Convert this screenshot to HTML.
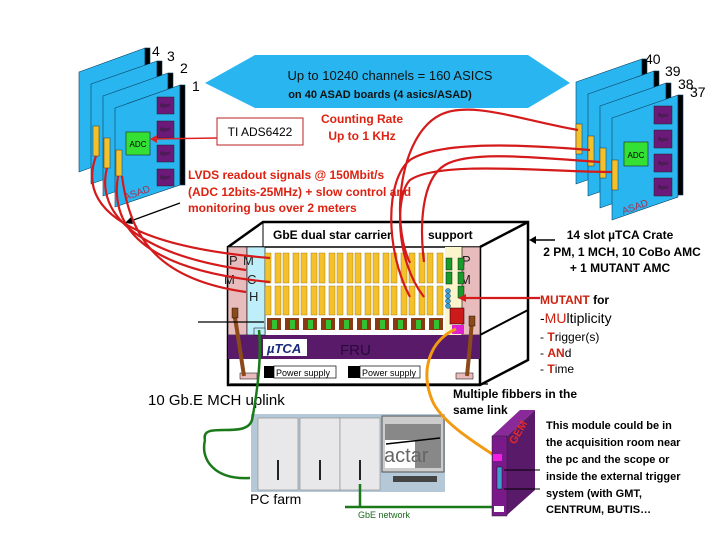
<!DOCTYPE html>
<html><head><meta charset="utf-8"><style>
body{margin:0;background:#fff}
svg{display:block}
text{font-family:"Liberation Sans",sans-serif}
</style></head><body>
<svg width="720" height="540" viewBox="0 0 720 540" xmlns="http://www.w3.org/2000/svg">
<!-- Banner -->
<polygon points="205,83 255,55 528,55 570,83 528,108 255,108" fill="#29b6f0"/>
<text x="390" y="80" font-size="13" text-anchor="middle" fill="#111">Up to 10240 channels = 160 ASICS</text>
<text x="380" y="98" font-size="11" font-weight="bold" text-anchor="middle" fill="#111">on 40 ASAD boards (4 asics/ASAD)</text>
<!-- number labels -->
<text x="152" y="56" font-size="14">4</text><text x="167" y="61" font-size="14">3</text>
<text x="180" y="73" font-size="14">2</text><text x="192" y="91" font-size="14">1</text>
<text x="645" y="64" font-size="14">40</text><text x="665" y="76" font-size="14">39</text>
<text x="678" y="89" font-size="14">38</text><text x="690" y="97" font-size="14">37</text>

<!-- left boards -->
<g stroke="#0a3d5c" stroke-width="0.6">
<polygon points="79,72 145,48 145,148 79,172" fill="#29b6f0"/>
<rect x="145" y="48" width="5" height="100" fill="#000"/>
<polygon points="91,84 157,61 157,161 91,184" fill="#29b6f0"/>
<rect x="157" y="61" width="5" height="100" fill="#000"/>
<polygon points="103,96 168,73 168,173 103,196" fill="#29b6f0"/>
<rect x="168" y="73" width="5" height="100" fill="#000"/>
<polygon points="115,108 180,85 180,185 115,207" fill="#29b6f0"/>
<rect x="180" y="85" width="5" height="100" fill="#000"/>
</g>
<rect x="93" y="126" width="6" height="30" fill="#f5c12a" stroke="#333" stroke-width=".5"/>
<rect x="104" y="138" width="6" height="30" fill="#f5c12a" stroke="#333" stroke-width=".5"/>
<rect x="116" y="150" width="6" height="26" fill="#f5c12a" stroke="#333" stroke-width=".5"/>
<g fill="#6b1a7a" stroke="#222" stroke-width=".5">
<rect x="157" y="97" width="17" height="17"/><rect x="157" y="121" width="17" height="17"/>
<rect x="157" y="145" width="17" height="17"/><rect x="157" y="169" width="17" height="17"/>
</g>
<g font-size="5" fill="#222" text-anchor="middle"><text x="165" y="107">Aget</text><text x="165" y="131">Aget</text><text x="165" y="155">Aget</text><text x="165" y="179">Aget</text></g>
<rect x="126" y="132" width="24" height="23" fill="#33e033" stroke="#222" stroke-width=".6"/>
<text x="138" y="147" font-size="8" text-anchor="middle">ADC</text>
<text x="138" y="196" font-size="10" fill="#a83050" transform="rotate(-20 138 196)" text-anchor="middle">ASAD</text>
<!-- right boards -->
<g stroke="#0a3d5c" stroke-width="0.6">
<polygon points="576,82 642,59 642,161 576,184" fill="#29b6f0"/>
<rect x="642" y="59" width="5" height="100" fill="#000"/>
<polygon points="588,94 654,71 654,173 588,196" fill="#29b6f0"/>
<rect x="654" y="71" width="5" height="100" fill="#000"/>
<polygon points="600,106 666,83 666,185 600,208" fill="#29b6f0"/>
<rect x="666" y="83" width="5" height="100" fill="#000"/>
<polygon points="612,118 678,95 678,197 612,220" fill="#29b6f0"/>
<rect x="678" y="95" width="5" height="100" fill="#000"/>
</g>
<g fill="#f5c12a" stroke="#333" stroke-width=".5">
<rect x="576" y="124" width="6" height="30"/><rect x="588" y="136" width="6" height="30"/>
<rect x="600" y="148" width="6" height="30"/><rect x="612" y="160" width="6" height="30"/>
</g>
<g fill="#6b1a7a" stroke="#222" stroke-width=".5">
<rect x="654" y="106" width="18" height="18"/><rect x="654" y="130" width="18" height="18"/>
<rect x="654" y="154" width="18" height="18"/><rect x="654" y="178" width="18" height="18"/>
</g>
<g font-size="5" fill="#222" text-anchor="middle"><text x="663" y="117">Aget</text><text x="663" y="141">Aget</text><text x="663" y="165">Aget</text><text x="663" y="189">Aget</text></g>
<rect x="624" y="142" width="24" height="24" fill="#33e033" stroke="#222" stroke-width=".6"/>
<text x="636" y="158" font-size="8" text-anchor="middle">ADC</text>
<text x="636" y="210" font-size="10" fill="#a83050" transform="rotate(-20 636 210)" text-anchor="middle">ASAD</text>

<!-- TI box -->
<rect x="217" y="118" width="86" height="27" fill="#fff" stroke="#b22" stroke-width="1"/>
<text x="260" y="136" font-size="12" text-anchor="middle">TI ADS6422</text>
<line x1="217" y1="138" x2="152" y2="139" stroke="#d22" stroke-width="1.5"/>
<polygon points="150,139 157,135 157,143" fill="#d22"/>
<text x="362" y="123" font-size="12" font-weight="bold" fill="#d21" text-anchor="middle">Counting Rate</text>
<text x="362" y="140" font-size="12" font-weight="bold" fill="#d21" text-anchor="middle">Up to 1 KHz</text>
<text x="188" y="179" font-size="12" font-weight="bold" fill="#d21">LVDS readout signals @ 150Mbit/s</text>
<text x="188" y="196" font-size="12" font-weight="bold" fill="#d21">(ADC 12bits-25MHz) + slow control and</text>
<text x="188" y="212" font-size="12" font-weight="bold" fill="#d21">monitoring bus over 2 meters</text>
<line x1="180" y1="203" x2="128" y2="222" stroke="#000" stroke-width="1.3"/>
<polygon points="125,223 131,217 133,224"/>

<!-- crate -->
<polygon points="228,247 263,222 528,222 528,360 480,385 228,385" fill="#fff" stroke="#000" stroke-width="2.5"/>
<line x1="480" y1="247" x2="528" y2="222" stroke="#000" stroke-width="2.5"/>
<line x1="480" y1="247" x2="480" y2="385" stroke="#000" stroke-width="2.5"/>
<line x1="480" y1="335" x2="528" y2="310" stroke="#000" stroke-width="2"/>
<line x1="228" y1="247" x2="480" y2="247" stroke="#000" stroke-width="1.5"/>
<line x1="263" y1="222" x2="263" y2="247" stroke="#000" stroke-width="1"/>
<text x="273" y="239" font-size="12" font-weight="bold">GbE  dual  star carrier</text>
<text x="428" y="239" font-size="12" font-weight="bold">support</text>
<rect x="228" y="247" width="19" height="88" fill="#e8bcbc" stroke="#000" stroke-width=".6"/>
<rect x="247" y="247" width="18" height="88" fill="#bdeefa" stroke="#000" stroke-width=".6"/>
<rect x="445" y="247" width="17" height="88" fill="#fbf5cc"/>
<rect x="462" y="247" width="18" height="88" fill="#e8bcbc" stroke="#000" stroke-width=".6"/>
<g font-size="13" fill="#222"><text x="229" y="265">P</text><text x="243" y="265">M</text><text x="224" y="284">M</text><text x="247" y="284">C</text><text x="249" y="301">H</text><text x="462" y="265">P</text><text x="460" y="284">M</text></g>
<g fill="#f5c12a" stroke="#8a6a00" stroke-width=".4">
<rect x="265" y="253" width="6" height="30"/><rect x="275" y="253" width="6" height="30"/>
<rect x="283" y="253" width="6" height="30"/><rect x="293" y="253" width="6" height="30"/>
<rect x="301" y="253" width="6" height="30"/><rect x="311" y="253" width="6" height="30"/>
<rect x="319" y="253" width="6" height="30"/><rect x="329" y="253" width="6" height="30"/>
<rect x="337" y="253" width="6" height="30"/><rect x="347" y="253" width="6" height="30"/>
<rect x="355" y="253" width="6" height="30"/><rect x="365" y="253" width="6" height="30"/>
<rect x="373" y="253" width="6" height="30"/><rect x="383" y="253" width="6" height="30"/>
<rect x="391" y="253" width="6" height="30"/><rect x="401" y="253" width="6" height="30"/>
<rect x="409" y="253" width="6" height="30"/><rect x="419" y="253" width="6" height="30"/>
<rect x="427" y="253" width="6" height="30"/><rect x="437" y="253" width="6" height="30"/>
<rect x="265" y="286" width="6" height="29"/><rect x="275" y="286" width="6" height="29"/>
<rect x="283" y="286" width="6" height="29"/><rect x="293" y="286" width="6" height="29"/>
<rect x="301" y="286" width="6" height="29"/><rect x="311" y="286" width="6" height="29"/>
<rect x="319" y="286" width="6" height="29"/><rect x="329" y="286" width="6" height="29"/>
<rect x="337" y="286" width="6" height="29"/><rect x="347" y="286" width="6" height="29"/>
<rect x="355" y="286" width="6" height="29"/><rect x="365" y="286" width="6" height="29"/>
<rect x="373" y="286" width="6" height="29"/><rect x="383" y="286" width="6" height="29"/>
<rect x="391" y="286" width="6" height="29"/><rect x="401" y="286" width="6" height="29"/>
<rect x="409" y="286" width="6" height="29"/><rect x="419" y="286" width="6" height="29"/>
<rect x="427" y="286" width="6" height="29"/><rect x="437" y="286" width="6" height="29"/>
</g>
<g>
<rect x="267" y="318" width="14" height="12" fill="#8a3a10"/><rect x="272" y="320" width="5" height="9" fill="#33c033"/>
<rect x="285" y="318" width="14" height="12" fill="#8a3a10"/><rect x="290" y="320" width="5" height="9" fill="#33c033"/>
<rect x="303" y="318" width="14" height="12" fill="#8a3a10"/><rect x="308" y="320" width="5" height="9" fill="#33c033"/>
<rect x="321" y="318" width="14" height="12" fill="#8a3a10"/><rect x="326" y="320" width="5" height="9" fill="#33c033"/>
<rect x="339" y="318" width="14" height="12" fill="#8a3a10"/><rect x="344" y="320" width="5" height="9" fill="#33c033"/>
<rect x="357" y="318" width="14" height="12" fill="#8a3a10"/><rect x="362" y="320" width="5" height="9" fill="#33c033"/>
<rect x="375" y="318" width="14" height="12" fill="#8a3a10"/><rect x="380" y="320" width="5" height="9" fill="#33c033"/>
<rect x="393" y="318" width="14" height="12" fill="#8a3a10"/><rect x="398" y="320" width="5" height="9" fill="#33c033"/>
<rect x="411" y="318" width="14" height="12" fill="#8a3a10"/><rect x="416" y="320" width="5" height="9" fill="#33c033"/>
<rect x="429" y="318" width="14" height="12" fill="#8a3a10"/><rect x="434" y="320" width="5" height="9" fill="#33c033"/>
</g>
<g fill="#1a9a2a" stroke="#000" stroke-width=".4">
<rect x="446" y="258" width="6" height="12"/><rect x="446" y="272" width="6" height="12"/>
<rect x="458" y="258" width="6" height="12"/><rect x="458" y="272" width="6" height="12"/><rect x="458" y="286" width="6" height="12"/>
</g>
<g fill="#3aa0d0" stroke="#123" stroke-width=".4"><circle cx="448" cy="291" r="2.5"/><circle cx="448" cy="296" r="2.5"/><circle cx="448" cy="301" r="2.5"/><circle cx="448" cy="306" r="2.5"/></g>
<rect x="450" y="308" width="14" height="16" fill="#cc1a1a" stroke="#000" stroke-width=".5"/>
<rect x="452" y="325" width="12" height="9" fill="#e020d0"/>
<rect x="228" y="335" width="252" height="24" fill="#5a1a6a"/>
<rect x="263" y="339" width="44" height="17" fill="#fff"/>
<text x="267" y="353" font-size="13" font-style="italic" font-weight="bold" fill="#1a2a7a">µTCA</text>
<text x="340" y="355" font-size="15" fill="#2a0a3a">FRU</text>
<rect x="264" y="366" width="10" height="12" fill="#000"/><rect x="274" y="366" width="62" height="12" fill="#fff" stroke="#000" stroke-width=".7"/>
<text x="276" y="376" font-size="9">Power supply</text>
<rect x="348" y="366" width="12" height="12" fill="#000"/><rect x="360" y="366" width="60" height="12" fill="#fff" stroke="#000" stroke-width=".7"/>
<text x="362" y="376" font-size="9">Power supply</text>
<rect x="240" y="373" width="17" height="6" fill="#e8bcbc" stroke="#000" stroke-width=".5"/>
<rect x="456" y="373" width="17" height="6" fill="#e8bcbc" stroke="#000" stroke-width=".5"/>
<rect x="254" y="328" width="11" height="7" fill="#bdeefa" stroke="#000" stroke-width=".5"/>
<path d="M234,312 L237,330 L244,376" stroke="#8a4a1a" stroke-width="4" fill="none"/>
<rect x="232" y="308" width="6" height="10" fill="#8a4a1a" stroke="#000" stroke-width=".4"/>
<path d="M472,320 L470,345 L467,376" stroke="#8a4a1a" stroke-width="4" fill="none"/>
<rect x="469" y="316" width="6" height="10" fill="#8a4a1a" stroke="#000" stroke-width=".4"/>
<line x1="198" y1="322" x2="264" y2="322" stroke="#000" stroke-width="1.3"/>

<!-- red cables -->
<g stroke="#d41a1a" stroke-width="2.2" fill="none">
<path d="M96,156 C80,200 110,245 270,258"/>
<path d="M107,168 C95,215 140,255 246,270"/>
<path d="M118,176 C110,225 140,270 270,282"/>
<path d="M122,176 C130,240 160,280 246,292"/>
<path d="M578,130 C520,120 470,100 440,115 C400,135 390,220 410,263"/>
<path d="M590,150 C530,145 440,140 410,160 C385,180 385,250 410,297"/>
<path d="M600,162 C540,158 470,150 445,165 C420,180 420,230 424,262"/>
<path d="M612,172 C550,172 440,160 410,180 C395,195 395,260 424,297"/>
<path d="M540,298 L462,298"/>
</g>
<polygon points="458,298 466,294 466,302" fill="#d41a1a"/>
<line x1="555" y1="240" x2="532" y2="240" stroke="#000" stroke-width="1.5"/>
<polygon points="529,240 536,236 536,244"/>

<!-- right texts -->
<g font-size="12" font-weight="bold" text-anchor="middle"><text x="620" y="239">14 slot µTCA Crate</text><text x="622" y="256">2 PM, 1 MCH, 10 CoBo AMC</text><text x="620" y="272">+ 1 MUTANT AMC</text></g>
<text x="540" y="304" font-size="12" font-weight="bold"><tspan fill="#c21">MUTANT</tspan> for</text>
<text x="540" y="323" font-size="14">-<tspan fill="#c21">MU</tspan>ltiplicity</text>
<text x="540" y="341" font-size="12">- <tspan fill="#c21" font-weight="bold">T</tspan>rigger(s)</text>
<text x="540" y="357" font-size="12">- <tspan fill="#c21" font-weight="bold">AN</tspan>d</text>
<text x="540" y="373" font-size="12">- <tspan fill="#c21" font-weight="bold">T</tspan>ime</text>
<text x="453" y="398" font-size="12" font-weight="bold">Multiple fibbers in the</text>
<text x="453" y="414" font-size="12" font-weight="bold">same link</text>
<g font-size="11" font-weight="bold"><text x="546" y="429">This module could be in</text><text x="546" y="446">the  acquisition room near</text><text x="546" y="463">the pc and the scope or</text><text x="546" y="480">inside the external trigger</text><text x="546" y="497">system (with GMT,</text><text x="546" y="513">CENTRUM, BUTIS…</text></g>

<!-- uplink -->
<line x1="230" y1="384" x2="488" y2="384" stroke="#000" stroke-width="1.3"/>
<text x="148" y="405" font-size="15">10 Gb.E MCH  uplink</text>

<!-- PC farm -->
<rect x="251" y="414" width="194" height="78" fill="#b4c8d8"/>
<g fill="#e8e8ea" stroke="#888" stroke-width=".6">
<rect x="258" y="418" width="40" height="72"/><rect x="300" y="418" width="40" height="72"/><rect x="340" y="418" width="40" height="72"/>
</g>
<g stroke="#222" stroke-width="2"><line x1="278" y1="460" x2="278" y2="480"/><line x1="320" y1="460" x2="320" y2="480"/><line x1="360" y1="460" x2="360" y2="480"/></g>
<rect x="382" y="416" width="62" height="56" fill="#ccc" stroke="#555"/>
<rect x="385" y="424" width="56" height="44" fill="#888"/>
<rect x="385" y="440" width="30" height="28" fill="#fff"/>
<text x="384" y="462" font-size="20" fill="#666">actar</text>
<line x1="386" y1="444" x2="440" y2="438" stroke="#000" stroke-width="1.5"/>
<rect x="393" y="476" width="44" height="6" fill="#444"/>
<text x="250" y="504" font-size="14">PC farm</text>
<text x="358" y="518" font-size="9" fill="#1a6a1a">GbE network</text>
<g stroke="#1a7a1a" stroke-width="2.5" fill="none">
<path d="M259,330 C262,360 256,400 252,420 C246,440 200,420 205,440"/>
<path d="M205,440 C200,460 215,480 250,478"/>
<line x1="345" y1="507" x2="496" y2="507"/>
<line x1="360" y1="484" x2="360" y2="507"/>
</g>
<!-- orange -->
<path d="M456,329 C430,340 420,370 432,400 C440,420 470,440 500,459" stroke="#f29a12" stroke-width="3" fill="none"/>
<!-- GEM module -->
<polygon points="492,436 520,410 535,410 507,436" fill="#8a2a9a"/>
<polygon points="507,436 535,410 535,490 507,515" fill="#5a1a6a"/>
<rect x="492" y="436" width="15" height="80" fill="#7a1a8a" stroke="#222" stroke-width=".5"/>
<text x="515" y="445" font-size="11" font-weight="bold" fill="#e02a2a" transform="rotate(-60 515 445)">GEM</text>
<rect x="493" y="454" width="9" height="7" fill="#f020e0"/>
<rect x="497" y="467" width="5" height="22" fill="#3aa0d0" stroke="#000" stroke-width=".4"/>
<rect x="494" y="506" width="10" height="6" fill="#fff"/>
<line x1="540" y1="470" x2="504" y2="470" stroke="#000"/><line x1="540" y1="489" x2="504" y2="489" stroke="#000"/>
</svg>
</body></html>
